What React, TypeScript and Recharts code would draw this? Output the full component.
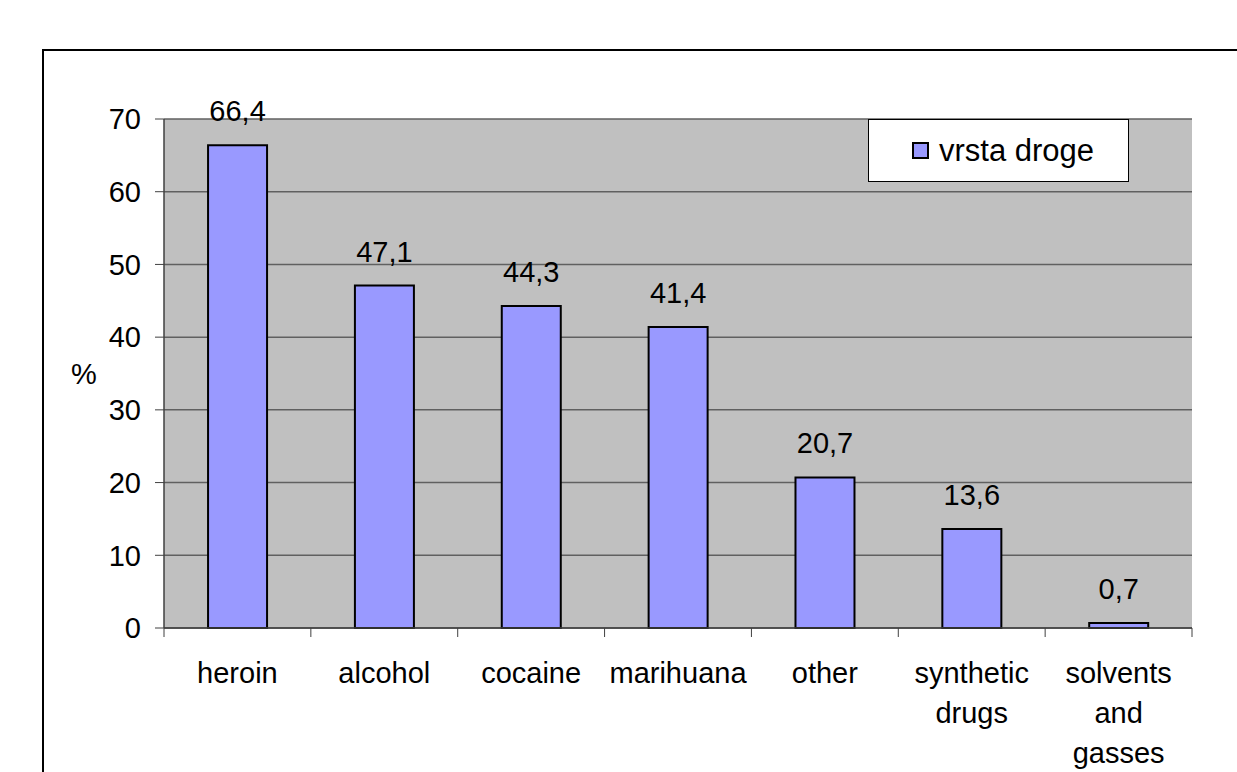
import React from 'react';
import { BarChart, Bar, XAxis, YAxis, CartesianGrid, Legend, LabelList } from 'recharts';

// Share of users (%) by drug type
const categories = [
  'heroin',
  'alcohol',
  'cocaine',
  'marihuana',
  'other',
  'synthetic drugs',
  'solvents and gasses',
];
const shares = [66.4, 47.1, 44.3, 41.4, 20.7, 13.6, 0.7];
const yTicks = [0, 10, 20, 30, 40, 50, 60, 70];
const seriesName = 'vrsta droge';
const yAxisTitle = '%';

const data = categories.map((category, i) => ({ category, value: shares[i] }));

const FONT = '"Liberation Sans", Arial, Helvetica, sans-serif';
const TEXT_SIZE = 29;
const BAR_FILL = '#9999FF';
const PLOT_FILL = '#C0C0C0';
const AXIS = '#404040';

const formatValue = (v: number) => Number(v).toFixed(1).replace('.', ',');

// Category label, wrapped word by word, plus tick marks on the band boundaries
function CategoryTick(props: any) {
  const { x, y, payload, index } = props;
  const half = payload && typeof payload.offset === 'number' ? payload.offset : 0;
  const lines = String(payload.value).split(' ');
  const isLast = index === categories.length - 1;
  return (
    <g>
      <line x1={x - half} x2={x - half} y1={y} y2={y + 9} stroke={AXIS} strokeWidth={1} />
      {isLast && (
        <line x1={x + half} x2={x + half} y1={y} y2={y + 9} stroke={AXIS} strokeWidth={1} />
      )}
      <text x={x} y={y + 55} textAnchor="middle" fontSize={TEXT_SIZE} fill="#000" fontFamily={FONT}>
        {lines.map((line, i) => (
          <tspan key={i} x={x} dy={i === 0 ? 0 : 40}>
            {line}
          </tspan>
        ))}
      </text>
    </g>
  );
}

function AxisTitle(props: any) {
  const vb = props.viewBox || { x: 0, y: 0, width: 0, height: 0 };
  return (
    <text
      x={vb.x + 84}
      y={vb.y + vb.height / 2}
      dy="0.35em"
      textAnchor="middle"
      fontSize={TEXT_SIZE}
      fill="#000"
      fontFamily={FONT}
    >
      {yAxisTitle}
    </text>
  );
}

function LegendBox(props: any) {
  const item = (props.payload && props.payload[0]) || { value: seriesName };
  return (
    <div
      style={{
        width: 261,
        height: 63,
        boxSizing: 'border-box',
        border: '1px solid #000',
        background: '#fff',
        display: 'flex',
        alignItems: 'center',
        paddingLeft: 43,
        fontFamily: FONT,
        fontSize: 31,
        color: '#000',
      }}
    >
      <span
        style={{
          display: 'inline-block',
          width: 17,
          height: 17,
          boxSizing: 'border-box',
          border: '2px solid #000',
          background: BAR_FILL,
          marginRight: 10,
          flexShrink: 0,
        }}
      />
      <span style={{ lineHeight: '31px', whiteSpace: 'nowrap' }}>{item.value}</span>
    </div>
  );
}

export default function App() {
  return (
    <div
      style={{
        position: 'fixed',
        left: 0,
        top: 0,
        width: 1237,
        height: 772,
        overflow: 'hidden',
        fontFamily: FONT,
        background: '#fff',
      }}
    >
      <div
        style={{
          position: 'absolute',
          left: 42,
          top: 49,
          width: 1400,
          height: 1000,
          border: '2px solid #000',
        }}
      />
      <BarChart
        width={1237}
        height={772}
        data={data}
        margin={{ top: 119, right: 45, left: 0, bottom: 0 }}
        barCategoryGap="30%"
      >
        <CartesianGrid
          vertical={false}
          fill={PLOT_FILL}
          fillOpacity={1}
          stroke="#606060"
          strokeWidth={1.5}
        />
        <XAxis
          dataKey="category"
          height={144}
          interval={0}
          tickLine={false}
          tickSize={0}
          tickMargin={0}
          axisLine={{ stroke: AXIS, strokeWidth: 1.5 }}
          tick={<CategoryTick />}
        />
        <YAxis
          width={164}
          domain={[0, 70]}
          ticks={yTicks}
          interval={0}
          tickSize={9}
          tickMargin={14}
          tickLine={{ stroke: AXIS }}
          axisLine={{ stroke: AXIS, strokeWidth: 1.5 }}
          tick={{ fill: '#000', fontSize: TEXT_SIZE, fontFamily: FONT }}
          label={<AxisTitle />}
        />
        <YAxis
          yAxisId="frame"
          orientation="right"
          width={0}
          domain={[0, 70]}
          tick={false}
          tickLine={false}
          axisLine={{ stroke: '#808080', strokeWidth: 3 }}
        />
        <Legend
          layout="vertical"
          align="center"
          verticalAlign="middle"
          content={<LegendBox />}
          wrapperStyle={{ position: 'absolute', left: 868, top: 119, width: 261, height: 63 }}
        />
        <Bar
          dataKey="value"
          name={seriesName}
          fill={BAR_FILL}
          stroke="#000"
          strokeWidth={2}
          isAnimationActive={false}
        >
          <LabelList
            dataKey="value"
            position="top"
            offset={24}
            formatter={formatValue}
            fill="#000"
            fontSize={TEXT_SIZE}
            fontFamily={FONT}
          />
        </Bar>
      </BarChart>
    </div>
  );
}
